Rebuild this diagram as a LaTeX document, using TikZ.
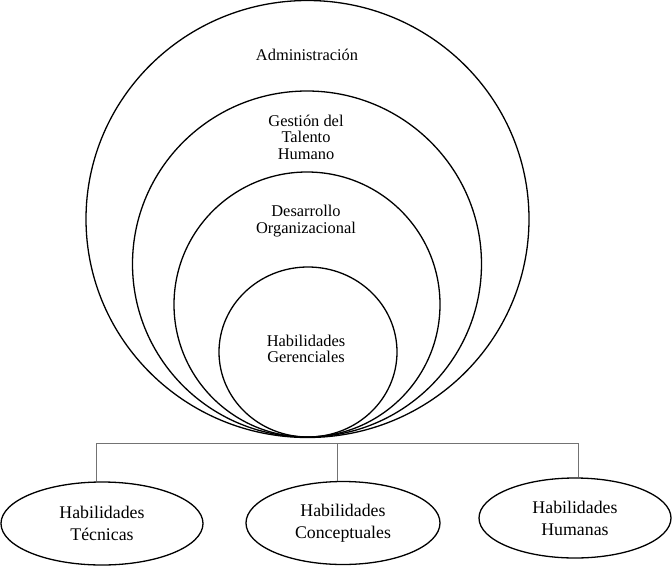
\documentclass[tikz,border=0pt]{standalone}
\usepackage{fontspec}
\setmainfont{Liberation Serif}
\usetikzlibrary{shapes.geometric}
\begin{document}
\begin{tikzpicture}[x=1pt,y=-1pt,
  ring/.style={draw=black, line width=1.3pt},
  ringtext/.style={align=center, inner sep=0pt, font=\fontsize{16.4}{16.3}\selectfont},
  skill/.style={ellipse, draw=black, line width=1.3pt, inner sep=0pt, align=center,
                font=\fontsize{17.8}{22}\selectfont},
  conn/.style={draw=black!55, line width=0.9pt}]
\useasboundingbox (0,0) rectangle (672,573);

% nested circles, all touching at the bottom
\draw[ring] (307.5,219) ellipse [x radius=221.5pt, y radius=218.5pt];
\draw[ring] (307,264) ellipse [x radius=174.5pt, y radius=173pt];
\draw[ring] (307,304.5) ellipse [x radius=133pt, y radius=132.5pt];
\draw[ring] (308,352) ellipse [x radius=89pt, y radius=85pt];

\node[ringtext] (adm) at (307,55) {Administración};
\node[ringtext] (gth) at (306,137.3) {Gestión del\\Talento\\Humano};
\node[ringtext] (dor) at (306,221) {Desarrollo\\Organizacional};
\node[ringtext] (hge) at (306,348.7) {Habilidades\\Gerenciales};

% the three kinds of skills
\node[skill, minimum width=202pt, minimum height=83pt] (tec) at (102,523.5) {Habilidades\\Técnicas};
\node[skill, minimum width=194pt, minimum height=83pt] (con) at (343,523) {Habilidades\\Conceptuales};
\node[skill, minimum width=192pt, minimum height=80pt] (hum) at (575,518) {Habilidades\\Humanas};

% bracket joining them
\coordinate (bl) at (96,443);
\coordinate (bm) at (337,443);
\coordinate (br) at (578,443);
\draw[conn] (bl) -- (br);
\draw[conn] (bl) -- (bl |- tec.north);
\draw[conn] (bm) -- (bm |- con.north);
\draw[conn] (br) -- (br |- hum.north);
\end{tikzpicture}
\end{document}
